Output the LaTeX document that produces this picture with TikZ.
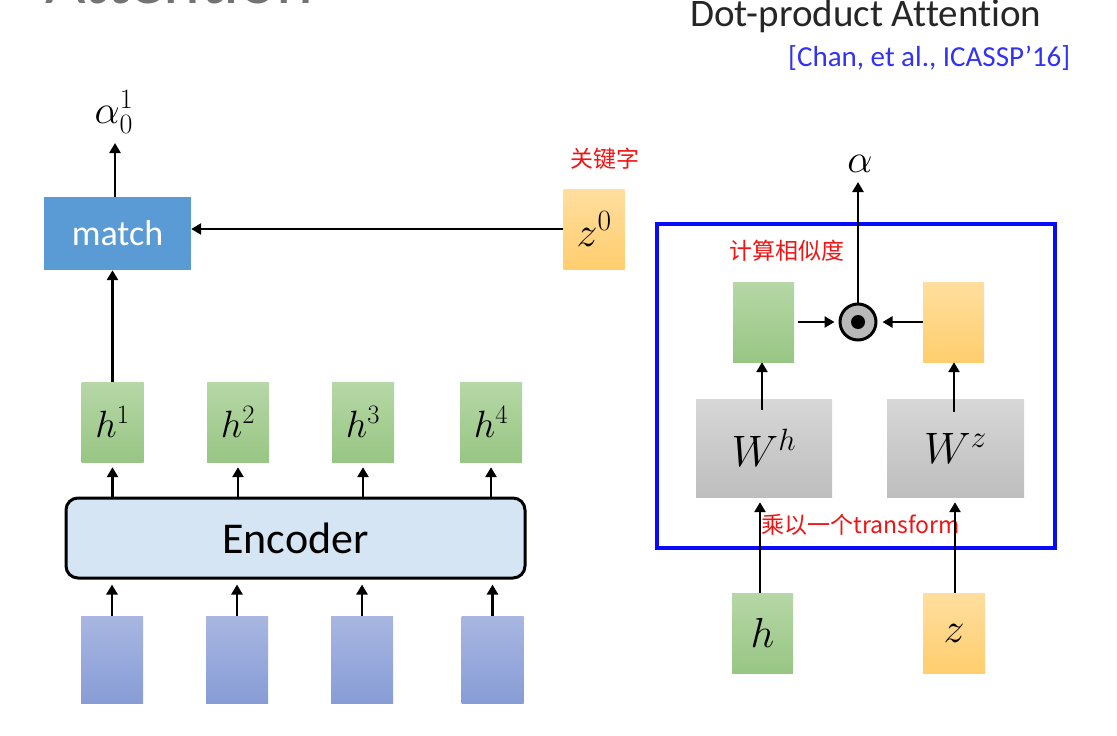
\RequirePackage{fix-cm}
\documentclass[tikz,border=0pt]{standalone}
\usepackage{fontspec}
\setmainfont{Carlito}[Ligatures=NoCommon]
\newfontfamily\cjk{Noto Sans CJK SC}
\usetikzlibrary{arrows.meta,shadings}
\definecolor{matchblue}{RGB}{91,155,213}
\definecolor{encfill}{RGB}{214,229,243}
\definecolor{frameblue}{RGB}{10,10,250}
\definecolor{redtxt}{RGB}{240,20,20}
\definecolor{citeblue}{RGB}{50,50,245}
\definecolor{titlegray}{RGB}{38,38,38}
\definecolor{greenT}{RGB}{182,215,166}
\definecolor{greenB}{RGB}{152,198,132}
\definecolor{orangeT}{RGB}{255,222,158}
\definecolor{orangeB}{RGB}{255,206,110}
\definecolor{inT}{RGB}{168,182,225}
\definecolor{inB}{RGB}{136,157,214}
\definecolor{grayT}{RGB}{215,215,215}
\definecolor{grayB}{RGB}{190,190,190}
\tikzset{
  fs/.style={font=\fontsize{#1}{#1}\selectfont},
  box/.style={rectangle, inner sep=0pt, draw=none},
  gbox/.style={box, top color=greenT, bottom color=greenB, minimum width=61pt, minimum height=80pt},
  obox/.style={box, top color=orangeT, bottom color=orangeB, minimum width=61pt, minimum height=80pt},
  ibox/.style={box, top color=inT, bottom color=inB, minimum width=62pt, minimum height=87pt},
  wbox/.style={box, top color=grayT, bottom color=grayB, minimum width=137pt, minimum height=98pt},
  arr/.style={line width=2.6pt, -{Triangle[width=11pt,length=10pt]}},
  redlab/.style={text=redtxt, font=\cjk\fontsize{23}{23}\selectfont, inner sep=0pt},
}
\begin{document}
\begin{tikzpicture}[x=1pt,y=-1pt]
\useasboundingbox[fill=white] (0,0) rectangle (1117,736);

% titles
\node[anchor=base west, fs=70, text=black!55, inner sep=0pt] (ttl) at (45,3) {Attention};
\node[anchor=base west, fs=39, text=titlegray, inner sep=0pt] (dpa) at (690,27) {Dot-product Attention};
\node[anchor=base west, fs=29, text=citeblue, inner sep=0pt] (cite) at (788,66) {[Chan, et al., ICASSP’16]};

% ---------- left part ----------
\node[box, fill=matchblue, minimum width=147pt, minimum height=73pt, text=white, fs=36] (match) at (117.5,233.5) {match};
\node[inner sep=0pt, fs=40] (a01) at (114,112) {$\alpha_0^1$};
\coordinate (a01tip) at (115,143);

\node[obox, fs=42] (z0) at (594,229) {$z^0$};
\node[redlab] (kw) at (605,159) {关键字};

\node[gbox, minimum width=62pt, fs=38] (h1) at (112.5,422) {$h^1$};
\node[gbox, minimum width=62pt, fs=38] (h2) at (238,422) {$h^2$};
\node[gbox, minimum width=62pt, fs=38] (h3) at (363,422) {$h^3$};
\node[gbox, minimum width=62pt, fs=38] (h4) at (491,422) {$h^4$};

\node[rectangle, rounded corners=12pt, draw=black, line width=3pt, fill=encfill,
      minimum width=459pt, minimum height=80pt, fs=44, inner sep=0pt] (enc) at (295.5,538) {Encoder};

\node[ibox] (i1) at (112,659.5) {};
\node[ibox] (i2) at (237,659.5) {};
\node[ibox] (i3) at (362,659.5) {};
\node[ibox] (i4) at (492.5,659.5) {};

\draw[arr] (a01tip |- match.north) -- (a01tip);
\draw[arr] (z0.west) -- (z0.west -| match.east);
\draw[arr] (h1.north) -- (h1.north |- match.south);
\foreach \k in {1,2,3,4}{
  \draw[arr, shorten >=5pt] (h\k.south |- enc.north) -- (h\k.south);
  \draw[arr, shorten >=5pt] (i\k.north) -- (i\k.north |- enc.south);
}

% ---------- right part ----------
\node[box, draw=frameblue, line width=4pt, minimum width=398pt, minimum height=324pt] (frame) at (856,386) {};
\node[inner sep=0pt, fs=40] (alpha) at (860,164) {$\alpha$};
\coordinate (alphatip) at (858,182);
\node[redlab] (sim) at (787,251) {计算相似度};

\node[gbox] (gq) at (763.5,322) {};
\node[obox] (oq) at (953.5,322) {};
\node[circle, draw=black, line width=3pt, fill=black!28, minimum size=36pt, inner sep=0pt] (dot) at (858,322) {};
\fill[black] (dot.center) circle (7);

\node[wbox, minimum width=136pt, fs=44] (Wh) at (764,448) {$W^h$};
\node[wbox, fs=44] (Wz) at (955.5,448) {$W^z$};
\node[redlab] (tr) at (861,525) {乘以一个transform};

\node[gbox, fs=42] (hin) at (762.5,633) {$h$};
\node[obox, minimum width=62pt, fs=42] (zin) at (954,633) {$z$};

\draw[arr] (dot.north) -- (dot.north |- alphatip);
\draw[arr, shorten <=4pt, shorten >=4pt] (gq.east) -- (dot.west);
\draw[arr, shorten >=5pt] (oq.west) -- (dot.east);
\draw[arr, shorten <=-11pt] (Wh.north -| 762,0) -- (gq.south -| 762,0);
\draw[arr, shorten <=-13pt] (Wz.north -| 954,0) -- (oq.south -| 954,0);
\draw[arr, shorten >=5pt] (hin.north -| 760,0) -- (Wh.south -| 760,0);
\draw[arr, shorten >=5pt] (zin.north -| 955,0) -- (Wz.south -| 955,0);
\end{tikzpicture}
\end{document}
